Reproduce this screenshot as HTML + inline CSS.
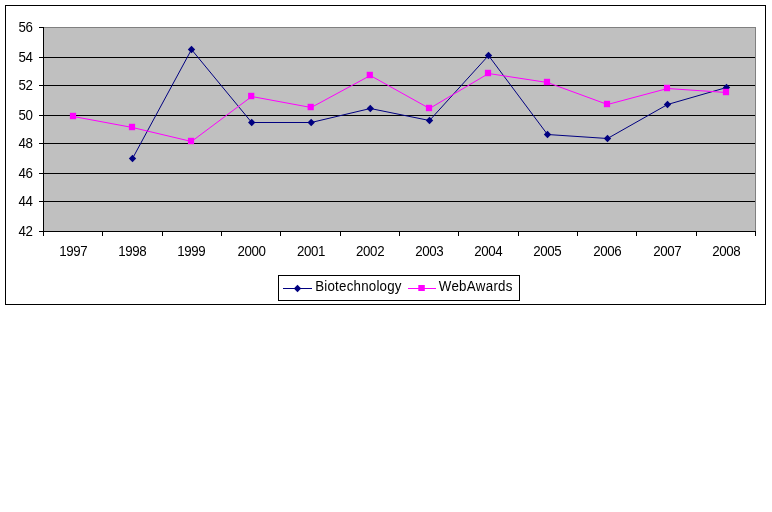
<!DOCTYPE html>
<html lang="en">
<head>
<meta charset="utf-8">
<title>Chart</title>
<style>
html,body{margin:0;padding:0;background:#fff;}
body{width:772px;height:512px;overflow:hidden;}
svg{display:block;}
text{font-family:"Liberation Sans",Arial,sans-serif;font-size:13.33px;fill:#000;}
text.d{letter-spacing:-0.35px;}
</style>
</head>
<body>
<svg width="772" height="512" viewBox="0 0 772 512">
<rect x="0" y="0" width="772" height="512" fill="#ffffff"/>
<g shape-rendering="crispEdges">
<rect x="5.5" y="5.5" width="760" height="299" fill="#ffffff" stroke="#000" stroke-width="1"/>
<rect x="43.5" y="27.5" width="712" height="204" fill="#c0c0c0" stroke="#808080" stroke-width="1"/>
<line x1="44" y1="57.5" x2="755" y2="57.5" stroke="#000" stroke-width="1"/>
<line x1="44" y1="85.5" x2="755" y2="85.5" stroke="#000" stroke-width="1"/>
<line x1="44" y1="115.5" x2="755" y2="115.5" stroke="#000" stroke-width="1"/>
<line x1="44" y1="143.5" x2="755" y2="143.5" stroke="#000" stroke-width="1"/>
<line x1="44" y1="173.5" x2="755" y2="173.5" stroke="#000" stroke-width="1"/>
<line x1="44" y1="201.5" x2="755" y2="201.5" stroke="#000" stroke-width="1"/>
<line x1="43.5" y1="27" x2="43.5" y2="232" stroke="#000" stroke-width="1"/>
<line x1="39" y1="231.5" x2="756" y2="231.5" stroke="#000" stroke-width="1"/>
<line x1="39" y1="27.5" x2="44" y2="27.5" stroke="#000" stroke-width="1"/>
<line x1="39" y1="57.5" x2="44" y2="57.5" stroke="#000" stroke-width="1"/>
<line x1="39" y1="85.5" x2="44" y2="85.5" stroke="#000" stroke-width="1"/>
<line x1="39" y1="115.5" x2="44" y2="115.5" stroke="#000" stroke-width="1"/>
<line x1="39" y1="143.5" x2="44" y2="143.5" stroke="#000" stroke-width="1"/>
<line x1="39" y1="173.5" x2="44" y2="173.5" stroke="#000" stroke-width="1"/>
<line x1="39" y1="201.5" x2="44" y2="201.5" stroke="#000" stroke-width="1"/>
<line x1="39" y1="231.5" x2="44" y2="231.5" stroke="#000" stroke-width="1"/>
<line x1="43.5" y1="231" x2="43.5" y2="236" stroke="#000" stroke-width="1"/>
<line x1="102.5" y1="231" x2="102.5" y2="236" stroke="#000" stroke-width="1"/>
<line x1="162.5" y1="231" x2="162.5" y2="236" stroke="#000" stroke-width="1"/>
<line x1="221.5" y1="231" x2="221.5" y2="236" stroke="#000" stroke-width="1"/>
<line x1="280.5" y1="231" x2="280.5" y2="236" stroke="#000" stroke-width="1"/>
<line x1="340.5" y1="231" x2="340.5" y2="236" stroke="#000" stroke-width="1"/>
<line x1="399.5" y1="231" x2="399.5" y2="236" stroke="#000" stroke-width="1"/>
<line x1="458.5" y1="231" x2="458.5" y2="236" stroke="#000" stroke-width="1"/>
<line x1="518.5" y1="231" x2="518.5" y2="236" stroke="#000" stroke-width="1"/>
<line x1="577.5" y1="231" x2="577.5" y2="236" stroke="#000" stroke-width="1"/>
<line x1="636.5" y1="231" x2="636.5" y2="236" stroke="#000" stroke-width="1"/>
<line x1="696.5" y1="231" x2="696.5" y2="236" stroke="#000" stroke-width="1"/>
<line x1="755.5" y1="231" x2="755.5" y2="236" stroke="#000" stroke-width="1"/>
</g>
<path d="M132.5,158.5 L191.5,49.5 L251.7,122.5 L311.2,122.5 L370.3,108.5 L429.5,120.5 L488.5,55.5 L547.5,134.5 L607.5,138.5 L667.5,104.5 L726.5,87.5" fill="none" stroke="#000080" stroke-width="1"/>
<path d="M132.5,154.8 L136.2,158.5 L132.5,162.2 L128.8,158.5 Z" fill="#000080"/>
<path d="M191.5,45.8 L195.2,49.5 L191.5,53.2 L187.8,49.5 Z" fill="#000080"/>
<path d="M251.7,118.8 L255.4,122.5 L251.7,126.2 L248.0,122.5 Z" fill="#000080"/>
<path d="M311.2,118.8 L314.9,122.5 L311.2,126.2 L307.5,122.5 Z" fill="#000080"/>
<path d="M370.3,104.8 L374.0,108.5 L370.3,112.2 L366.6,108.5 Z" fill="#000080"/>
<path d="M429.5,116.8 L433.2,120.5 L429.5,124.2 L425.8,120.5 Z" fill="#000080"/>
<path d="M488.5,51.8 L492.2,55.5 L488.5,59.2 L484.8,55.5 Z" fill="#000080"/>
<path d="M547.5,130.8 L551.2,134.5 L547.5,138.2 L543.8,134.5 Z" fill="#000080"/>
<path d="M607.5,134.8 L611.2,138.5 L607.5,142.2 L603.8,138.5 Z" fill="#000080"/>
<path d="M667.5,100.8 L671.2,104.5 L667.5,108.2 L663.8,104.5 Z" fill="#000080"/>
<path d="M726.5,83.8 L730.2,87.5 L726.5,91.2 L722.8,87.5 Z" fill="#000080"/>
<path d="M73.5,116.5 L132.5,127.5 L191.5,141.5 L251.7,96.5 L311.2,107.5 L370.3,75.5 L429.5,108.5 L488.5,73.5 L547.5,82.5 L607.5,104.5 L667.5,88.5 L726.5,92.5" fill="none" stroke="#ff00ff" stroke-width="1"/>
<rect x="69.9" y="112.8" width="6.2" height="6.4" fill="#ff00ff"/>
<rect x="128.9" y="123.8" width="6.2" height="6.4" fill="#ff00ff"/>
<rect x="187.9" y="137.8" width="6.2" height="6.4" fill="#ff00ff"/>
<rect x="248.1" y="92.8" width="6.2" height="6.4" fill="#ff00ff"/>
<rect x="307.6" y="103.8" width="6.2" height="6.4" fill="#ff00ff"/>
<rect x="366.7" y="71.8" width="6.2" height="6.4" fill="#ff00ff"/>
<rect x="425.9" y="104.8" width="6.2" height="6.4" fill="#ff00ff"/>
<rect x="484.9" y="69.8" width="6.2" height="6.4" fill="#ff00ff"/>
<rect x="543.9" y="78.8" width="6.2" height="6.4" fill="#ff00ff"/>
<rect x="603.9" y="100.8" width="6.2" height="6.4" fill="#ff00ff"/>
<rect x="663.9" y="84.8" width="6.2" height="6.4" fill="#ff00ff"/>
<rect x="722.9" y="88.8" width="6.2" height="6.4" fill="#ff00ff"/>
<text transform="translate(32.5,32) scale(1,1.1)" text-anchor="end" class="d">56</text>
<text transform="translate(32.5,62) scale(1,1.1)" text-anchor="end" class="d">54</text>
<text transform="translate(32.5,90) scale(1,1.1)" text-anchor="end" class="d">52</text>
<text transform="translate(32.5,120) scale(1,1.1)" text-anchor="end" class="d">50</text>
<text transform="translate(32.5,148) scale(1,1.1)" text-anchor="end" class="d">48</text>
<text transform="translate(32.5,178) scale(1,1.1)" text-anchor="end" class="d">46</text>
<text transform="translate(32.5,206) scale(1,1.1)" text-anchor="end" class="d">44</text>
<text transform="translate(32.5,236) scale(1,1.1)" text-anchor="end" class="d">42</text>
<text transform="translate(73.3,256) scale(1,1.1)" text-anchor="middle" class="d">1997</text>
<text transform="translate(132.3,256) scale(1,1.1)" text-anchor="middle" class="d">1998</text>
<text transform="translate(191.3,256) scale(1,1.1)" text-anchor="middle" class="d">1999</text>
<text transform="translate(251.5,256) scale(1,1.1)" text-anchor="middle" class="d">2000</text>
<text transform="translate(311.0,256) scale(1,1.1)" text-anchor="middle" class="d">2001</text>
<text transform="translate(370.1,256) scale(1,1.1)" text-anchor="middle" class="d">2002</text>
<text transform="translate(429.3,256) scale(1,1.1)" text-anchor="middle" class="d">2003</text>
<text transform="translate(488.3,256) scale(1,1.1)" text-anchor="middle" class="d">2004</text>
<text transform="translate(547.3,256) scale(1,1.1)" text-anchor="middle" class="d">2005</text>
<text transform="translate(607.3,256) scale(1,1.1)" text-anchor="middle" class="d">2006</text>
<text transform="translate(667.3,256) scale(1,1.1)" text-anchor="middle" class="d">2007</text>
<text transform="translate(726.3,256) scale(1,1.1)" text-anchor="middle" class="d">2008</text>
<rect x="278.5" y="275.5" width="241" height="25" fill="#fff" stroke="#000" stroke-width="1" shape-rendering="crispEdges"/>
<line x1="283" y1="288.5" x2="312" y2="288.5" stroke="#000080" stroke-width="1" shape-rendering="crispEdges"/>
<path d="M297.5,284.8 L301.2,288.5 L297.5,292.2 L293.8,288.5 Z" fill="#000080"/>
<text transform="translate(315.2,291) scale(1,1.1)" textLength="86.3" lengthAdjust="spacing">Biotechnology</text>
<line x1="408" y1="288.5" x2="436" y2="288.5" stroke="#ff00ff" stroke-width="1" shape-rendering="crispEdges"/>
<rect x="418.3" y="285" width="6.5" height="6" fill="#ff00ff"/>
<text transform="translate(438.8,291) scale(1,1.1)" textLength="73.7" lengthAdjust="spacing">WebAwards</text>
</svg>
</body>
</html>
